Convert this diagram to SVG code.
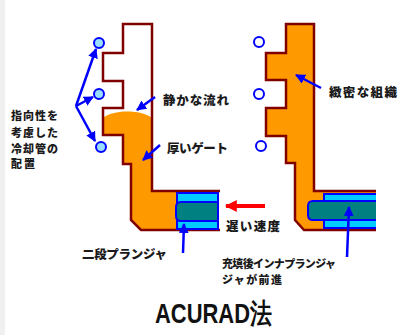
<svg xmlns="http://www.w3.org/2000/svg" width="408" height="335" viewBox="0 0 408 335">
  <style>
    .mold { fill: none; stroke: #800000; stroke-width: 2.5; stroke-linejoin: miter; }
    .melt { fill: #ff9900; stroke: none; }
    .sleeve { fill: #00ccff; stroke: #0000ff; stroke-width: 2; }
    .rod { fill: #008080; stroke: #0000ff; stroke-width: 2; }
    .pipe-a { fill: #99ddff; stroke: #0000ff; stroke-width: 2; }
    .pipe-b { fill: #ffffff; stroke: #0000ff; stroke-width: 2; }
    .ptr { stroke: #0000ff; stroke-width: 2.5; fill: none; marker-end: url(#hb); }
    .ptr-red { stroke: #ff0000; stroke-width: 4; fill: none; marker-end: url(#hr); }
    .lbl { font-family: "Noto Sans CJK JP", "Noto Sans", sans-serif; font-weight: 900; font-size: 12.5px; fill: #1a1a1a; }
    .lbl-s { font-size: 11px; }
    .title { font-family: "Liberation Sans", Arial, sans-serif; font-weight: bold; font-size: 28px; fill: #111111; }
  </style>
  <defs>
    <marker id="hb" viewBox="0 0 10 10" refX="9" refY="5" markerWidth="4" markerHeight="4" orient="auto" markerUnits="strokeWidth">
      <path d="M0,0 L10,5 L0,10 Z" fill="#0000ff"/>
    </marker>
    <marker id="hr" viewBox="0 0 10 10" refX="9" refY="5" markerWidth="3" markerHeight="3" orient="auto" markerUnits="strokeWidth">
      <path d="M0,0 L10,5 L0,10 Z" fill="#ff0000"/>
    </marker>
  </defs>

  <rect x="0" y="0" width="408" height="335" fill="#ffffff"/>
  <rect x="0" y="0" width="5" height="335" fill="#f0f0f0"/>

  <!-- left cavity: partly filled, meniscus near the top -->
  <g id="mold-left">
    <path class="melt" d="M103,118 C112,110 140,109 152,118 L152,191 L180,191 L180,230 L141,230 L131,220 L131,164 L123,164 L123,135 L103,135 Z"/>
    <path class="mold" d="M220,191 L152,191 L152,24 L123,24 L123,53 L103,53 L103,81 L123,81 L123,108 L103,108 L103,135 L123,135 L123,164 L131,164 L131,220 L141,230 L220,230"/>
  </g>
  <g id="plunger-left">
    <rect class="sleeve" x="177" y="193" width="41" height="36"/>
    <path class="rod" d="M218,202 L181,202 Q176,202 176,207 L176,216 Q176,221 181,221 L218,221 Z"/>
  </g>

  <!-- right cavity: completely filled -->
  <g id="mold-right">
    <path class="melt" d="M314,24 L286,24 L286,53 L266,53 L266,80 L286,80 L286,108 L266,108 L266,136 L286,136 L286,163 L295,163 L295,220 L304,230 L376,230 L376,191 L314,191 Z"/>
    <path class="mold" d="M376,191 L314,191 L314,24 L286,24 L286,53 L266,53 L266,80 L286,80 L286,108 L266,108 L266,136 L286,136 L286,163 L295,163 L295,220 L304,230 L376,230"/>
  </g>
  <g id="plunger-right">
    <rect x="324" y="193" width="52" height="36" fill="#00ccff"/>
    <path fill="none" stroke="#0000ff" stroke-width="2" d="M376,194 L324,194 L324,228 L376,228"/>
    <path fill="#008080" d="M376,201 L313,201 Q308,201 308,206 L308,215 Q308,220 313,220 L376,220 Z"/>
    <path fill="none" stroke="#0000ff" stroke-width="2" d="M376,201 L313,201 Q308,201 308,206 L308,215 Q308,220 313,220 L376,220"/>
  </g>

  <!-- cooling pipes -->
  <g id="pipes-left">
    <circle class="pipe-a" cx="99" cy="43" r="5"/>
    <circle class="pipe-a" cx="99" cy="94" r="5"/>
    <circle class="pipe-a" cx="101" cy="147" r="5"/>
  </g>
  <g id="pipes-right">
    <circle class="pipe-b" cx="259" cy="42" r="5"/>
    <circle class="pipe-b" cx="259" cy="94" r="5"/>
    <circle class="pipe-b" cx="261" cy="146" r="5"/>
  </g>

  <g id="connectors">
    <line class="ptr" x1="76" y1="106" x2="96" y2="49"/>
    <line class="ptr" x1="76" y1="106" x2="93" y2="97"/>
    <line class="ptr" x1="76" y1="106" x2="95" y2="141"/>
    <line class="ptr" x1="155" y1="97" x2="137" y2="110"/>
    <line class="ptr" x1="160" y1="145" x2="143" y2="160"/>
    <line class="ptr" x1="321" y1="88" x2="296" y2="75"/>
    <line class="ptr-red" x1="265" y1="206" x2="226" y2="206"/>
    <line class="ptr" x1="183" y1="253" x2="184" y2="224"/>
    <line class="ptr" x1="347" y1="257" x2="349" y2="207"/>
  </g>

  <g id="labels">
    <text class="lbl lbl-s" x="11" y="120" textLength="47">指向性を</text>
    <text class="lbl lbl-s" x="11" y="136.5" textLength="47">考慮した</text>
    <text class="lbl lbl-s" x="11" y="152.5" textLength="47">冷却管の</text>
    <text class="lbl lbl-s" x="11" y="168" textLength="24">配置</text>
    <text class="lbl" x="163" y="105" textLength="66">静かな流れ</text>
    <text class="lbl" x="167" y="153" textLength="61">厚いゲート</text>
    <text class="lbl" x="329" y="97" textLength="68">緻密な組織</text>
    <text class="lbl" x="226" y="231" textLength="54">遅い速度</text>
    <text class="lbl" x="82" y="259" textLength="85">二段プランジャ</text>
    <text class="lbl lbl-s" x="222" y="268" textLength="114">充填後インナプランジャ</text>
    <text class="lbl lbl-s" x="222" y="284" textLength="60">ジャが前進</text>
    <text class="title" x="155" y="323" textLength="117" lengthAdjust="spacingAndGlyphs">ACURAD法</text>
  </g>
</svg>
